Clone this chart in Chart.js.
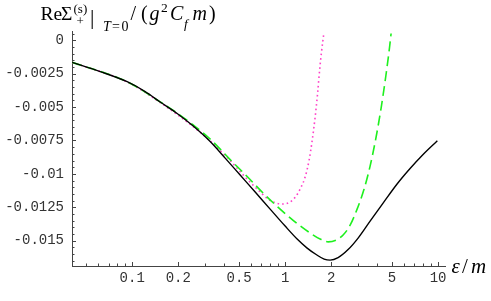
<!DOCTYPE html>
<html><head><meta charset="utf-8">
<script src="https://cdn.jsdelivr.net/npm/chart.js@4/dist/chart.umd.min.js"></script>
<style>html,body{margin:0;padding:0;background:#fff}#wrap{position:relative;width:491px;height:301px}</style>
</head><body><div id="wrap"><canvas id="c" width="491" height="301"></canvas></div>
<script>
// ---- data (epsilon/m, Re Sigma) ----
const blackEps = [0.0405, 0.0618, 0.0927, 0.1216, 0.1524, 0.1968, 0.2505, 0.3235, 0.4055, 0.508, 0.637, 0.798, 1.0, 1.198, 1.393, 1.595, 1.799, 1.968, 2.220, 2.581, 3.000, 3.594, 4.370, 5.395, 6.561, 7.980, 9.89];
const blackVal = [-0.00165, -0.00234, -0.00310, -0.00384, -0.00462, -0.00548, -0.00642, -0.00758, -0.00882, -0.01009, -0.01136, -0.01264, -0.01391, -0.01488, -0.01556, -0.01604, -0.01638, -0.01646, -0.01627, -0.01567, -0.01481, -0.01354, -0.01219, -0.01076, -0.00960, -0.00855, -0.00752];

const greenEps = [0.0405, 0.0927, 0.1524, 0.1968, 0.2505, 0.3235, 0.4370, 0.5646, 0.7180, 0.9276, 1.198, 1.457, 1.693, 1.910, 2.154, 2.394, 2.660, 2.955, 3.283, 3.594, 3.934, 4.242, 4.573, 4.819, 4.929];
const greenVal = [-0.00165, -0.00310, -0.00461, -0.00545, -0.00634, -0.00739, -0.00893, -0.01020, -0.01144, -0.01264, -0.01372, -0.01443, -0.01488, -0.01509, -0.01496, -0.01458, -0.01384, -0.01264, -0.01114, -0.00942, -0.00724, -0.00507, -0.00252, -0.00050, 0.00051];

const pinkEps = [0.0405, 0.0927, 0.1524, 0.2505, 0.3235, 0.4370, 0.5479, 0.6662, 0.7743, 0.8732, 0.9704, 1.078, 1.180, 1.272, 1.351, 1.435, 1.501, 1.571, 1.631, 1.681, 1.732, 1.785];
const pinkVal = [-0.00165, -0.00312, -0.00466, -0.00646, -0.00754, -0.00900, -0.01024, -0.01121, -0.01189, -0.01219, -0.01226, -0.01211, -0.01166, -0.01099, -0.01024, -0.00897, -0.00754, -0.00575, -0.00395, -0.00222, -0.00080, 0.00040];

const xTickValues = [0.1, 0.2, 0.5, 1, 2, 5, 10];
const xTickLabels = ['0.1', '0.2', '0.5', '1', '2', '5', '10'];
const xMinorTicks = [0.05, 0.06, 0.07, 0.08, 0.09, 0.3, 0.4, 0.6, 0.7, 0.8, 0.9, 3, 4, 6, 7, 8, 9];
const yTickValues = [0, -0.0025, -0.005, -0.0075, -0.01, -0.0125, -0.015];
const yTickLabels = ['0', '-0.0025', '-0.005', '-0.0075', '-0.01', '-0.0125', '-0.015'];
const yMinorTicks = [0.0005, -0.0005, -0.001, -0.0015, -0.002, -0.003, -0.0035, -0.004, -0.0045,
  -0.0055, -0.006, -0.0065, -0.007, -0.008, -0.0085, -0.009, -0.0095, -0.0105, -0.011, -0.0115, -0.012,
  -0.013, -0.0135, -0.014, -0.0145, -0.0155, -0.016, -0.0165];

function pts(xs, ys) { return xs.map((x, i) => ({x: x, y: ys[i]})); }

const AXIS = '#444';
const tickPlugin = {
  id: 'innerTicks',
  afterDraw(chart) {
    const ctx = chart.ctx, xs = chart.scales.x, ys = chart.scales.y;
    const a = chart.chartArea;
    ctx.save();
    ctx.strokeStyle = AXIS; ctx.lineWidth = 1;
    ctx.beginPath();
    yTickValues.forEach(v => { const p = Math.round(ys.getPixelForValue(v)) + 0.5; ctx.moveTo(a.left, p); ctx.lineTo(a.left + 4, p); });
    yMinorTicks.forEach(v => { const p = Math.round(ys.getPixelForValue(v)) + 0.5; ctx.moveTo(a.left, p); ctx.lineTo(a.left + 2.5, p); });
    xTickValues.forEach(v => { const p = Math.round(xs.getPixelForValue(v)) + 0.5; ctx.moveTo(p, a.bottom); ctx.lineTo(p, a.bottom - 4); });
    xMinorTicks.forEach(v => { const p = Math.round(xs.getPixelForValue(v)) + 0.5; ctx.moveTo(p, a.bottom); ctx.lineTo(p, a.bottom - 2.5); });
    ctx.stroke();
    ctx.restore();
  }
};

const labelPlugin = {
  id: 'mathLabels',
  afterDraw(chart) {
    const ctx = chart.ctx;
    ctx.save();
    ctx.fillStyle = '#000';
    ctx.textBaseline = 'alphabetic';
    ctx.textAlign = 'left';
    const F = 'px "Liberation Serif", "DejaVu Serif", serif';
    function put(t, x, y, size, italic) {
      ctx.font = (italic ? 'italic ' : '') + size + F;
      ctx.fillText(t, x, y);
    }
    const B = 20;
    put('Re', 40.5, B, 19.5, false);
    put('\u03A3', 61, B, 19.5, false);
    put('(s)', 73.5, 13, 13, false);
    put('+', 76.5, 24.5, 13, false);
    put('|', 90, 24, 22, false);
    put('T', 103, 30.5, 14, true);
    put('=', 112, 30.5, 14, false);
    put('0', 121.5, 30.5, 14, false);
    put('/', 130.5, B, 20, false);
    put('(', 141, B, 20, false);
    put('g', 149.5, B, 20, true);
    put('2', 161, 11.5, 13.5, false);
    put('C', 170, B, 20, true);
    put('f', 184, 28, 13.5, true);
    put('m', 192.5, B, 20, true);
    put(')', 209, B, 20, false);
    // x-axis label
    put('\u03B5', 451.5, 273, 21, true);
    put('/', 462, 273, 21, false);
    put('m', 471, 273, 21, true);
    ctx.restore();
  }
};

const tickFont = {family: '"Liberation Mono", "DejaVu Sans Mono", monospace', size: 14};

new Chart(document.getElementById('c'), {
  type: 'line',
  data: {
    datasets: [
      {label: 'black', data: pts(blackEps, blackVal), borderColor: '#000', borderWidth: 1.4, pointRadius: 0, fill: false, cubicInterpolationMode: 'monotone'},
      {label: 'green', data: pts(greenEps, greenVal), borderColor: '#1ef01e', borderWidth: 1.6, borderDash: [10, 5], pointRadius: 0, fill: false, cubicInterpolationMode: 'monotone'},
      {label: 'pink', data: pts(pinkEps, pinkVal), borderColor: '#ff40c8', borderWidth: 1.6, borderDash: [1.6, 3], pointRadius: 0, fill: false, cubicInterpolationMode: 'monotone'}
    ]
  },
  options: {
    responsive: false,
    animation: false,
    devicePixelRatio: 1,
    layout: {padding: {left: 0, right: 46, top: 31, bottom: 0}},
    plugins: {legend: {display: false}, tooltip: {enabled: false}, title: {display: false}},
    scales: {
      x: {
        type: 'logarithmic', min: 0.0404, max: 11.1,
        grid: {display: false, drawTicks: false},
        border: {display: true, color: AXIS, width: 1},
        afterBuildTicks: s => { s.ticks = xTickValues.map(v => ({value: v})); },
        afterFit: s => { s.height = 35; },
        ticks: {autoSkip: false, maxRotation: 0, padding: 4, color: '#333', font: tickFont,
          callback: (v) => xTickLabels[xTickValues.indexOf(v)] ?? ''}
      },
      y: {
        type: 'linear', min: -0.0169, max: 0.0007,
        grid: {display: false, drawTicks: false},
        border: {display: true, color: AXIS, width: 1},
        afterBuildTicks: s => { s.ticks = yTickValues.map(v => ({value: v})); },
        afterFit: s => { s.width = 72; },
        ticks: {autoSkip: false, padding: 8, color: '#333', font: tickFont,
          callback: (v) => { const i = yTickValues.findIndex(t => Math.abs(t - v) < 1e-9); return i >= 0 ? yTickLabels[i] : ''; }}
      }
    }
  },
  plugins: [tickPlugin, labelPlugin]
});
</script>
</body></html>
